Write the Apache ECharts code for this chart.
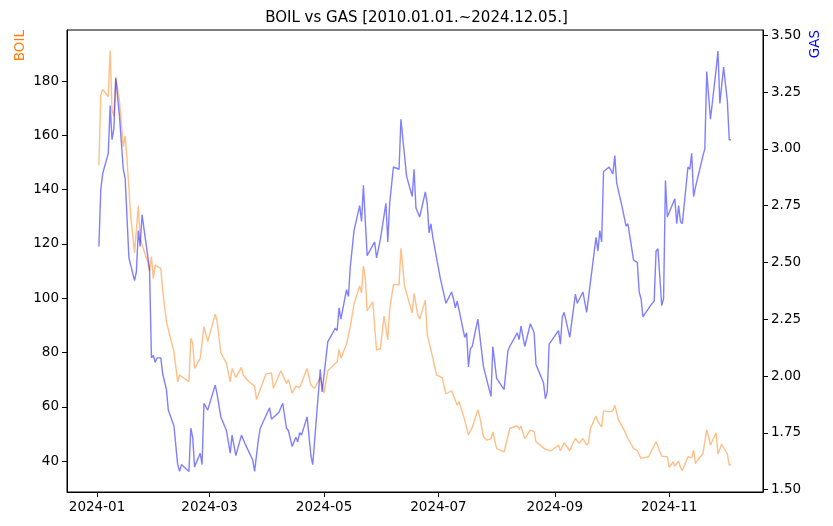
<!DOCTYPE html>
<html>
<head>
<meta charset="utf-8">
<script src="https://cdn.jsdelivr.net/npm/echarts@6/dist/echarts.min.js"></script>
<style>
  html, body { margin: 0; padding: 0; background: #fff; }
  #chart { width: 833px; height: 526px; }
</style>
</head>
<body>
<div id="chart"></div>
<script>
// day offsets from 2024-01-01
var boilDays = [1,2,3,6,7,8,9,10,12,14,15,16,18,20,22,23,24,27,28,29,30,31,34,35,37,41,43,44,49,50,51,52,55,57,59,63,64,66,69,71,72,74,77,78,81,84,85,90,93,94,98,101,102,104,106,108,112,114,116,119,121,123,128,129,130,133,134,135,137,140,141,142,143,144,147,149,151,153,155,156,158,161,162,164,168,169,171,172,175,176,178,179,181,184,186,189,192,193,196,197,198,200,203,204,206,208,210,211,213,217,220,224,225,226,228,231,233,234,239,240,242,246,247,249,252,254,255,257,259,261,262,263,266,267,268,269,270,273,275,276,278,281,283,284,286,288,290,291,294,298,299,301,304,305,307,308,310,311,312,315,317,318,319,320,323,325,327,330,331,333,336,337,338];
var boilValues = [149,174.8,176.9,174.2,191.2,169.3,167,181.6,172.4,155.8,159.7,150.9,130,116.7,134,121.8,122,113.4,110,115.3,107.3,112.2,111,103,91.3,80.3,69.2,71.7,69.2,85.2,83.4,74.1,77.8,89.5,84,94.1,91.7,79.9,76,69.2,74.1,70.8,74.5,71.6,69.2,67.6,62.7,72,72.5,66.8,73.3,68.6,70,65,67.6,67,74.1,68,66.8,70.8,65,73.3,76.6,81.1,77.8,83.1,83,89.5,97.8,104.5,102,111.8,107.5,95.3,98.7,80.9,81.3,93.4,84.6,95.8,105.1,104.9,118.4,104.2,94.6,101.8,93.8,92.3,99.3,86.8,80.9,77.8,71.7,70.7,64.7,65.9,60.6,61.9,55.1,55.7,49.6,52.4,58.8,56.4,48.9,47.7,48.3,50.7,44.6,43.4,52,53,51.7,52.9,48.3,51.4,50.8,47.1,44.3,44.6,43.8,45.9,43.8,46.8,43.8,47,48.3,46.5,48.3,45.9,46.7,52,56.6,54.5,54.5,52.5,58.5,58.1,58.5,60.6,55.1,51.4,48.3,48.6,44.7,43.8,41,40.4,41.6,47.1,47.5,41.8,41.6,37.7,39.7,38.1,40,37.7,36.5,41.6,41.2,44,39,40.2,42.8,51.6,45.9,50.4,42.6,46.2,42.6,38.5,38.8];

var gasDays = [1,2,3,6,7,8,9,10,12,14,15,17,20,21,22,23,24,26,28,29,30,31,32,34,35,37,38,41,43,44,45,49,50,51,52,55,56,57,59,63,64,66,69,71,72,74,77,79,83,84,86,87,92,93,97,99,101,102,104,106,107,108,109,112,114,115,119,120,123,127,128,129,130,133,134,135,137,140,141,142,144,148,149,151,154,155,156,158,161,162,165,168,169,170,172,175,176,177,178,179,183,186,189,190,191,192,196,197,198,199,200,203,206,210,211,213,217,219,220,224,225,226,228,231,233,234,238,239,240,241,242,246,247,248,249,252,255,256,259,261,266,267,268,269,270,273,275,276,277,280,282,283,286,288,289,290,291,295,296,297,298,299,301,302,303,304,308,309,310,311,312,315,316,317,318,319,323,324,325,327,330,331,332,334,336,337,338];
var gasValues = [2.57,2.82,2.89,2.98,3.19,3.04,3.09,3.31,3.14,2.91,2.87,2.52,2.42,2.46,2.64,2.57,2.71,2.59,2.47,2.08,2.09,2.06,2.08,2.08,2.01,1.94,1.85,1.78,1.61,1.58,1.61,1.58,1.77,1.73,1.60,1.66,1.61,1.88,1.85,1.96,1.92,1.82,1.76,1.66,1.74,1.65,1.74,1.70,1.63,1.58,1.72,1.77,1.86,1.81,1.84,1.88,1.77,1.76,1.69,1.73,1.71,1.75,1.74,1.82,1.65,1.61,2.03,1.93,2.15,2.21,2.20,2.30,2.25,2.38,2.35,2.48,2.64,2.75,2.68,2.84,2.53,2.59,2.52,2.60,2.76,2.59,2.76,2.92,2.91,3.13,2.88,2.79,2.91,2.74,2.70,2.81,2.76,2.63,2.67,2.61,2.43,2.32,2.37,2.34,2.30,2.33,2.17,2.19,2.04,2.12,2.13,2.25,2.04,1.91,2.13,1.99,1.94,2.11,2.13,2.19,2.16,2.22,2.13,2.23,2.19,2.05,1.97,1.90,1.93,2.14,2.14,2.20,2.14,2.26,2.28,2.17,2.36,2.32,2.37,2.28,2.61,2.55,2.64,2.59,2.90,2.92,2.89,2.97,2.85,2.74,2.66,2.67,2.51,2.50,2.37,2.34,2.26,2.31,2.31,2.33,2.55,2.56,2.31,2.34,2.86,2.70,2.78,2.67,2.75,2.68,2.67,2.92,2.91,2.98,2.79,2.83,2.97,3.00,3.34,3.13,3.35,3.43,3.20,3.36,3.21,3.04,3.04];

var xTicks = ['2024-01-01','2024-03-01','2024-05-01','2024-07-01','2024-09-01','2024-11-01'];
var boilTicks = [40, 60, 80, 100, 120, 140, 160, 180];
var gasTicks = [1.50, 1.75, 2.00, 2.25, 2.50, 2.75, 3.00, 3.25, 3.50];

function toTime(d) { return Date.UTC(2024, 0, 1 + d); }
function pairs(days, vals) {
  return days.map(function (d, i) { return [toTime(d), vals[i]]; });
}
function ym(v) {
  var d = new Date(v);
  var m = d.getUTCMonth() + 1;
  return d.getUTCFullYear() + '-' + (m < 10 ? '0' + m : m);
}

var chart = echarts.init(document.getElementById('chart'));
var font = 'DejaVu Sans';
var tickTimes = xTicks.map(function (s) { return Date.parse(s + 'T00:00:00Z'); });

var option = {
  animation: false,
  textStyle: { fontFamily: font },
  title: {
    text: 'BOIL vs GAS [2010.01.01.~2024.12.05.]',
    left: 'center', top: 6,
    textStyle: { fontFamily: font, fontSize: 15, fontWeight: 'normal', color: '#000' }
  },
  grid: { left: 67, right: 70, top: 30, bottom: 34, show: true, borderColor: '#000', borderWidth: 1 },
  xAxis: {
    type: 'value',
    min: toTime(-16), max: toTime(355),
    axisLine: { lineStyle: { color: '#000' } },
    axisTick: { customValues: tickTimes, length: 5, lineStyle: { color: '#000' } },
    axisLabel: { customValues: tickTimes, color: '#000', fontSize: 13.5, margin: 8, formatter: ym },
    splitLine: { show: false }
  },
  yAxis: [{
    type: 'value', position: 'left',
    min: 28.6, max: 198.8,
    name: 'BOIL', nameLocation: 'end', nameRotate: 90, nameGap: 0,
    nameTextStyle: { color: '#ff7f0e', fontSize: 13.5, align: 'right', verticalAlign: 'bottom', padding: [0, 0, 40, 0] },
    axisLine: { show: true, lineStyle: { color: '#000' } },
    axisTick: { show: true, customValues: boilTicks, length: 5, lineStyle: { color: '#000' } },
    axisLabel: { customValues: boilTicks, color: '#000', fontSize: 13.5 },
    splitLine: { show: false }
  }, {
    type: 'value', position: 'right',
    min: 1.4894, max: 3.523,
    name: 'GAS', nameLocation: 'end', nameRotate: 90, nameGap: 0,
    nameTextStyle: { color: '#0000ff', fontSize: 13.5, align: 'right', verticalAlign: 'top', padding: [45, 0, 0, 0] },
    axisLine: { show: true, lineStyle: { color: '#000' } },
    axisTick: { show: true, customValues: gasTicks, length: 5, lineStyle: { color: '#000' } },
    axisLabel: { customValues: gasTicks, color: '#000', fontSize: 13.5, formatter: function (v) { return v.toFixed(2); } },
    splitLine: { show: false }
  }],
  series: [{
    name: 'BOIL', type: 'line', yAxisIndex: 0, showSymbol: false,
    data: pairs(boilDays, boilValues),
    lineStyle: { color: '#ff7f0e', width: 1.4, opacity: 0.5 }
  }, {
    name: 'GAS', type: 'line', yAxisIndex: 1, showSymbol: false,
    data: pairs(gasDays, gasValues),
    lineStyle: { color: '#0000ff', width: 1.4, opacity: 0.5 }
  }]
};
chart.setOption(option);
</script>
</body>
</html>
